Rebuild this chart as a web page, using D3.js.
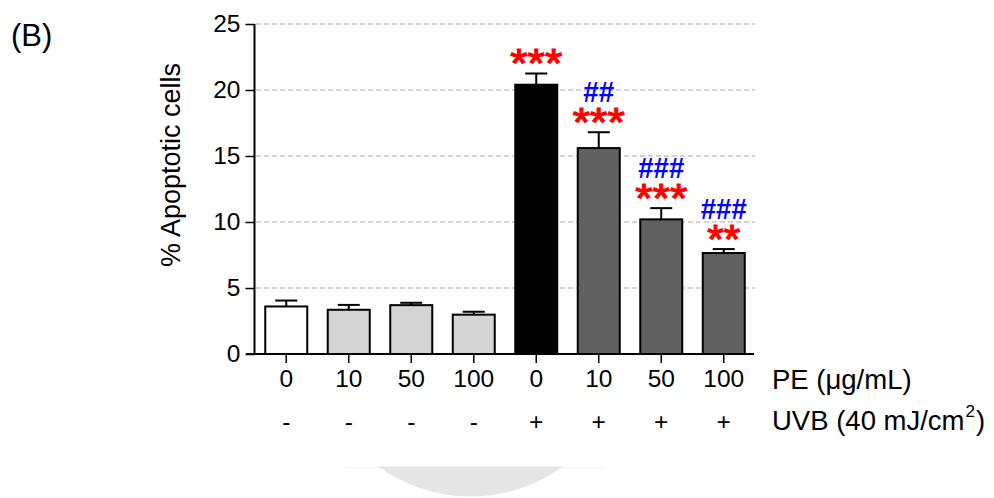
<!DOCTYPE html>
<html>
<head>
<meta charset="utf-8">
<script src="https://cdn.jsdelivr.net/npm/d3@7"></script>
<style>
  html, body { margin: 0; padding: 0; background: #fff; }
  svg { display: block; font-family: "Liberation Sans", Arial, sans-serif; }
</style>
</head>
<body>
<svg id="chart" width="994" height="498"></svg>
<script>
// Apoptosis (%) after PE pre-treatment with or without UVB exposure
const peDoses   = ["0", "10", "50", "100", "0", "10", "50", "100"];
const uvbFlags  = ["-", "-", "-", "-", "+", "+", "+", "+"];
const meanVals  = [3.6, 3.35, 3.7, 2.98, 20.4, 15.6, 10.2, 7.65];
const semVals   = [0.45, 0.37, 0.18, 0.22, 0.85, 1.2, 0.85, 0.3];
const vsControl = ["", "", "", "", "***", "***", "***", "**"];
const vsUvb     = ["", "", "", "", "", "##", "###", "###"];
const groupKind = ["ctrl", "pe", "pe", "pe", "uvb", "uvbpe", "uvbpe", "uvbpe"];
const yTicks    = [0, 5, 10, 15, 20, 25];

const fills = { ctrl: "#ffffff", pe: "#d4d4d4", uvb: "#000000", uvbpe: "#616161" };
const FONT = "Liberation Sans, Arial, sans-serif";
const LABEL_SIZE = 24.5;
const TITLE_SIZE = 27.5;

const svg = d3.select("#chart");
const idx = d3.range(meanVals.length);

const x = d3.scaleBand().domain(idx).range([255, 755]).padding(0);
const barW = 42;
const y = d3.scaleLinear().domain([0, 25]).range([354, 24]);

// soft watermark segment at the foot of the page
const wm = { cx: 470.5, top: 466.5, half: 92.5, sag: 30 };
const r = (wm.half * wm.half + wm.sag * wm.sag) / (2 * wm.sag);
svg.append("rect").attr("x", 345).attr("y", wm.top).attr("width", 260).attr("height", 2.5)
  .attr("fill", "#f9f9f9");
svg.append("path")
  .attr("d", `M${wm.cx - wm.half},${wm.top} L${wm.cx + wm.half},${wm.top} A${r},${r} 0 0 1 ${wm.cx - wm.half},${wm.top}Z`)
  .attr("fill", "#e5e5e5");

// dashed gridlines
svg.append("g").selectAll("line")
  .data(yTicks.filter(d => d > 0))
  .join("line")
  .attr("x1", 256).attr("x2", 755)
  .attr("y1", d => y(d)).attr("y2", d => y(d))
  .attr("stroke", "#c8c8c8").attr("stroke-width", 1.3)
  .attr("stroke-dasharray", "5,3");

// bars
const cx = i => x(i) + x.bandwidth() / 2;
svg.append("g").selectAll("rect")
  .data(idx)
  .join("rect")
  .attr("x", i => cx(i) - barW / 2)
  .attr("y", i => y(meanVals[i]))
  .attr("width", barW)
  .attr("height", i => y(0) - y(meanVals[i]))
  .attr("fill", i => fills[groupKind[i]])
  .attr("stroke", "#000").attr("stroke-width", 2);

// upper error bars
const eb = svg.append("g").attr("stroke", "#000").attr("stroke-width", 2);
idx.forEach(i => {
  const top = y(meanVals[i] + semVals[i]);
  eb.append("line").attr("x1", cx(i)).attr("x2", cx(i))
    .attr("y1", y(meanVals[i])).attr("y2", top);
  eb.append("line").attr("x1", cx(i) - 11).attr("x2", cx(i) + 11)
    .attr("y1", top).attr("y2", top);
});

// y axis
const yAxis = d3.axisLeft(y).tickValues(yTicks).tickSize(9).tickPadding(5);
const gy = svg.append("g").attr("transform", "translate(254.5,0)").call(yAxis);
gy.select(".domain").attr("stroke-width", 2).attr("d", `M0,${y(0)}V${y(25)}`);
gy.selectAll(".tick line").attr("stroke-width", 1.5);
gy.selectAll(".tick text").attr("font-size", LABEL_SIZE).attr("fill", "#000")
  .attr("font-family", FONT);

// x axis baseline and ticks
const xAxis = d3.axisBottom(x).tickSize(9).tickFormat(i => peDoses[i]).tickPadding(7);
const gx = svg.append("g").attr("transform", `translate(0,${y(0)})`).call(xAxis);
gx.select(".domain").attr("stroke-width", 2).attr("d", "M246,0H754");
gx.selectAll(".tick line").attr("stroke-width", 1.5);
gx.selectAll(".tick text").attr("font-size", LABEL_SIZE).attr("fill", "#000")
  .attr("font-family", FONT);

// UVB row
svg.append("g").selectAll("text")
  .data(idx)
  .join("text")
  .attr("x", i => cx(i))
  .attr("y", 430)
  .attr("text-anchor", "middle")
  .attr("font-size", LABEL_SIZE)
  .text(i => uvbFlags[i]);

// row titles
svg.append("text").attr("x", 772).attr("y", 389).attr("font-size", TITLE_SIZE)
  .text("PE (μg/mL)");
const uvbTitle = svg.append("text").attr("x", 772).attr("y", 430).attr("font-size", TITLE_SIZE);
uvbTitle.append("tspan").text("UVB (40 mJ/cm");
uvbTitle.append("tspan").attr("font-size", 17).attr("dx", 1).attr("dy", -13).text("2");
uvbTitle.append("tspan").attr("dx", 1).attr("dy", 13).text(")");

// y axis title
svg.append("text")
  .attr("transform", "translate(180,165) rotate(-90)")
  .attr("text-anchor", "middle")
  .attr("font-size", 27)
  .text("% Apoptotic cells");

// panel letter
svg.append("text").attr("x", 11).attr("y", 46).attr("font-size", 31).text("(B)");

// significance marks
const marks = svg.append("g");
idx.forEach(i => {
  const capY = y(meanVals[i] + semVals[i]);
  const starC = capY - 18.5;
  if (vsControl[i]) {
    marks.append("text")
      .attr("x", cx(i)).attr("y", starC + 22)
      .attr("text-anchor", "middle")
      .attr("font-size", 40)
      .attr("fill", "#ff0000")
      .attr("stroke", "#ff0000").attr("stroke-width", 1.2)
      .attr("textLength", vsControl[i].length === 3 ? 52 : 33)
      .attr("lengthAdjust", "spacingAndGlyphs")
      .text(vsControl[i]);
  }
  if (vsUvb[i]) {
    marks.append("text")
      .attr("x", cx(i)).attr("y", starC - 22.5 + 10.5)
      .attr("text-anchor", "middle")
      .attr("font-size", 30).attr("font-weight", "bold")
      .attr("fill", "#0000ff")
      .attr("textLength", vsUvb[i].length === 3 ? 46 : 31)
      .attr("lengthAdjust", "spacingAndGlyphs")
      .text(vsUvb[i]);
  }
});
</script>
</body>
</html>
